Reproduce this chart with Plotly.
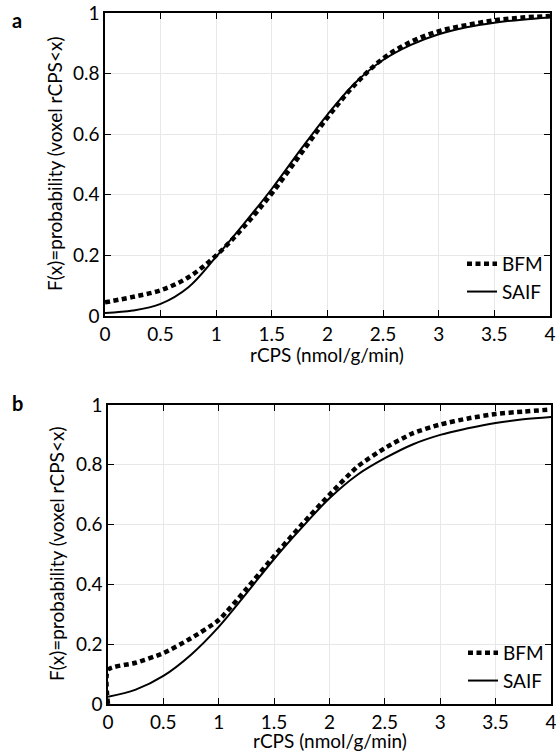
import plotly.graph_objects as go

W, H = 556, 752

x_vals = [0, 0.25, 0.5, 0.75, 1.0, 1.25, 1.5, 1.75, 2.0, 2.25, 2.5, 2.75, 3.0, 3.25, 3.5, 3.75, 4.0]

# Panel a
a_bfm = [0.045, 0.063, 0.085, 0.128, 0.2, 0.295, 0.405, 0.53, 0.655, 0.765, 0.85, 0.905, 0.94, 0.96, 0.976, 0.985, 0.99]
a_saif = [0.01, 0.018, 0.04, 0.095, 0.196, 0.305, 0.42, 0.545, 0.665, 0.77, 0.845, 0.895, 0.93, 0.953, 0.968, 0.978, 0.985]

# Panel b
b_bfm_x = [0, 0] + x_vals[1:]
b_bfm = [0.0, 0.114, 0.138, 0.17, 0.22, 0.281, 0.385, 0.495, 0.6, 0.70, 0.793, 0.856, 0.905, 0.935, 0.955, 0.97, 0.978, 0.985]
b_saif = [0.024, 0.048, 0.094, 0.165, 0.258, 0.37, 0.485, 0.59, 0.688, 0.766, 0.822, 0.868, 0.9, 0.922, 0.94, 0.952, 0.96]

series_names = ["BFM", "SAIF"]
x_title = "rCPS (nmol/g/min)"
y_title = "F(x)=probability (voxel rCPS<x)"
panel_labels = ["a", "b"]

FONT = "Lato"
FS = 19

def px(x0, x1):
    return [x0 / W, x1 / W]

def py(top, bottom):
    return [1 - bottom / H, 1 - top / H]

fig = go.Figure()

dot_line = dict(color="black", width=4.5, dash="5px,3.5px")
solid_line = dict(color="black", width=2)

fig.add_trace(go.Scatter(x=x_vals, y=a_bfm, mode="lines", name=series_names[0],
                         line=dict(shape="spline", smoothing=1.0, **dot_line),
                         xaxis="x", yaxis="y", legend="legend"))
fig.add_trace(go.Scatter(x=x_vals, y=a_saif, mode="lines", name=series_names[1],
                         line=dict(shape="spline", smoothing=1.0, **solid_line),
                         xaxis="x", yaxis="y", legend="legend"))
fig.add_trace(go.Scatter(x=b_bfm_x, y=b_bfm, mode="lines", name=series_names[0],
                         line=dict(shape="spline", smoothing=0.6, **dot_line),
                         xaxis="x2", yaxis="y2", legend="legend2"))
fig.add_trace(go.Scatter(x=x_vals, y=b_saif, mode="lines", name=series_names[1],
                         line=dict(shape="spline", smoothing=1.0, **solid_line),
                         xaxis="x2", yaxis="y2", legend="legend2"))

axis_common = dict(
    showline=True, linecolor="black", linewidth=1.5, mirror="allticks",
    ticks="inside", ticklen=6, tickwidth=1.2, tickcolor="black",
    showgrid=True, gridcolor="#e8e8e8", gridwidth=1,
    zeroline=False, tickfont=dict(family=FONT, size=FS, color="black"),
    automargin=False, ticklabeloverflow="allow",
)

xa = dict(range=[0, 4], dtick=0.5, tick0=0, **axis_common)
ya = dict(range=[0, 1], dtick=0.2, tick0=0, **axis_common)

def ann(text, x, y, size=FS, angle=0):
    return dict(text=text, x=x / W, y=1 - y / H, xref="paper", yref="paper",
                xanchor="center", yanchor="middle", showarrow=False, textangle=angle,
                font=dict(family=FONT, size=size, color="black"))

fig.update_layout(
    template="none",
    width=W, height=H,
    margin=dict(l=0, r=0, t=0, b=0),
    paper_bgcolor="white", plot_bgcolor="white",
    font=dict(family=FONT, size=FS, color="black"),
    xaxis=dict(domain=px(105, 550), anchor="y", **xa),
    yaxis=dict(domain=py(13, 316), anchor="x", **ya),
    xaxis2=dict(domain=px(108, 551), anchor="y2", **xa),
    yaxis2=dict(domain=py(405, 704), anchor="x2", **ya),
    legend=dict(x=548 / W, y=1 - 311 / H, xanchor="right", yanchor="bottom",
                bgcolor="rgba(0,0,0,0)", font=dict(size=FS),
                tracegroupgap=0),
    legend2=dict(x=549 / W, y=1 - 700 / H, xanchor="right", yanchor="bottom",
                 bgcolor="rgba(0,0,0,0)", font=dict(size=FS),
                 tracegroupgap=0),
    showlegend=True,
    annotations=[
        ann("<b>%s</b>" % panel_labels[0], 17, 20, size=20),
        ann("<b>%s</b>" % panel_labels[1], 17, 403, size=20),
        ann(x_title, 327, 354),
        ann(x_title, 330, 740),
        ann(y_title, 54, 164, angle=-90),
        ann(y_title, 56, 554, angle=-90),
    ],
)

fig.write_html("out.html", config={"displayModeBar": False},
               post_script="document.body.style.margin='0';document.body.style.overflow='hidden';")
